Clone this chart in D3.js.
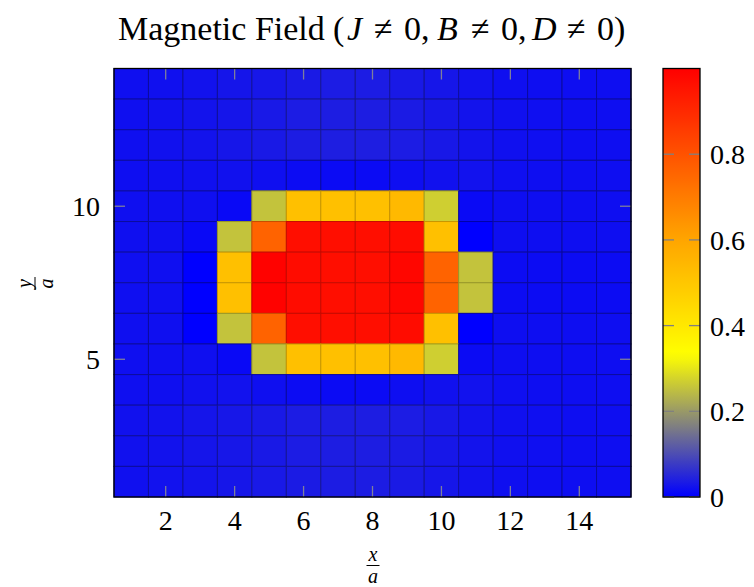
<!DOCTYPE html>
<html>
<head>
<meta charset="utf-8">
<script src="https://cdn.jsdelivr.net/npm/d3@7"></script>
<style>
  html, body { margin: 0; padding: 0; background: #fff; }
  svg { display: block; }
  text { font-family: "Liberation Serif", "DejaVu Serif", serif; fill: #000; }
</style>
</head>
<body>
<svg id="chart" width="754" height="587"></svg>
<script>
// Lattice sites along x and y (in units of a)
const xSites = [1, 2, 3, 4, 5, 6, 7, 8, 9, 10, 11, 12, 13, 14, 15];
const ySites = [14, 13, 12, 11, 10, 9, 8, 7, 6, 5, 4, 3, 2, 1];

// Magnetic field magnitude per site, one row per y value (top row y = 14)
const fieldRows = [
  [0.020, 0.021, 0.024, 0.027, 0.030, 0.034, 0.036, 0.036, 0.033, 0.029, 0.024, 0.020, 0.018, 0.018, 0.018],
  [0.020, 0.022, 0.025, 0.028, 0.032, 0.036, 0.038, 0.038, 0.035, 0.030, 0.025, 0.021, 0.019, 0.018, 0.018],
  [0.020, 0.022, 0.025, 0.029, 0.033, 0.037, 0.039, 0.039, 0.036, 0.031, 0.025, 0.021, 0.019, 0.018, 0.018],
  [0.018, 0.020, 0.021, 0.022, 0.020, 0.016, 0.015, 0.015, 0.018, 0.022, 0.023, 0.019, 0.018, 0.018, 0.018],
  [0.020, 0.020, 0.020, 0.012, 0.255, 0.520, 0.520, 0.520, 0.540, 0.270, 0.013, 0.018, 0.018, 0.018, 0.018],
  [0.020, 0.020, 0.012, 0.255, 0.760, 0.965, 0.965, 0.965, 0.970, 0.520, 0.000, 0.018, 0.018, 0.018, 0.018],
  [0.019, 0.019, 0.000, 0.520, 0.995, 0.970, 0.965, 0.965, 0.985, 0.760, 0.255, 0.016, 0.016, 0.016, 0.016],
  [0.019, 0.019, 0.000, 0.520, 0.995, 0.970, 0.965, 0.965, 0.985, 0.760, 0.255, 0.016, 0.016, 0.016, 0.016],
  [0.020, 0.020, 0.000, 0.255, 0.760, 0.965, 0.965, 0.965, 0.970, 0.520, 0.000, 0.018, 0.018, 0.018, 0.018],
  [0.020, 0.020, 0.020, 0.012, 0.255, 0.520, 0.520, 0.520, 0.540, 0.270, 0.015, 0.018, 0.018, 0.018, 0.018],
  [0.020, 0.020, 0.022, 0.023, 0.020, 0.016, 0.015, 0.015, 0.018, 0.022, 0.023, 0.019, 0.018, 0.018, 0.018],
  [0.022, 0.024, 0.027, 0.030, 0.033, 0.036, 0.038, 0.038, 0.036, 0.031, 0.025, 0.021, 0.019, 0.018, 0.018],
  [0.022, 0.024, 0.027, 0.030, 0.033, 0.036, 0.038, 0.038, 0.035, 0.030, 0.025, 0.021, 0.019, 0.018, 0.018],
  [0.021, 0.023, 0.026, 0.029, 0.032, 0.035, 0.037, 0.037, 0.034, 0.029, 0.024, 0.020, 0.018, 0.018, 0.018]
];

// Tick values
const xTicks = [2, 4, 6, 8, 10, 12, 14];
const yTicks = [5, 10];
const colorTicks = [0, 0.2, 0.4, 0.6, 0.8];

// Colormap: blue -> gray -> yellow -> orange -> red
const cmapStops = [0, 0.167, 0.333, 0.6, 1];
const cmapColors = ["#0000ff", "#808080", "#ffff00", "#ffa500", "#ff0000"];

const svg = d3.select("#chart");
const plot = { left: 114, right: 631, top: 68.5, bottom: 497 };
const bar = { left: 663, right: 700 };

const x = d3.scaleLinear().domain([0.5, 15.5]).range([plot.left, plot.right]);
const y = d3.scaleLinear().domain([0.5, 14.5]).range([plot.bottom, plot.top]);
const color = d3.scaleLinear().domain(cmapStops).range(cmapColors)
  .interpolate(d3.interpolateRgb).clamp(true);
const cbar = d3.scaleLinear().domain([0, 1]).range([plot.bottom, plot.top]);

// Flatten rows into cells
const cells = [];
fieldRows.forEach((row, i) => row.forEach((v, j) => cells.push({ x: xSites[j], y: ySites[i], v })));

// Faceted shading: each cell edge is a darker shade of its fill
function facetEdge(c) {
  const k = d3.rgb(c);
  return d3.rgb(k.r * 0.78, k.g * 0.78, k.b * 0.66).toString();
}

svg.append("g")
  .selectAll("rect")
  .data(cells)
  .join("rect")
  .attr("x", d => x(d.x - 0.5))
  .attr("y", d => y(d.y + 0.5))
  .attr("width", d => x(d.x + 0.5) - x(d.x - 0.5))
  .attr("height", d => y(d.y - 0.5) - y(d.y + 0.5))
  .attr("fill", d => color(d.v))
  .attr("stroke", d => facetEdge(color(d.v)))
  .attr("stroke-width", 1);

// Inner tick marks on all four sides
const tickLen = 11;
const tickColor = "#7f7f9a";
const ticks = svg.append("g").attr("stroke", tickColor).attr("stroke-width", 1.3);
xTicks.forEach(t => {
  ticks.append("line").attr("x1", x(t)).attr("x2", x(t)).attr("y1", plot.bottom).attr("y2", plot.bottom - tickLen);
  ticks.append("line").attr("x1", x(t)).attr("x2", x(t)).attr("y1", plot.top).attr("y2", plot.top + tickLen);
});
yTicks.forEach(t => {
  ticks.append("line").attr("x1", plot.left).attr("x2", plot.left + tickLen).attr("y1", y(t)).attr("y2", y(t));
  ticks.append("line").attr("x1", plot.right).attr("x2", plot.right - tickLen).attr("y1", y(t)).attr("y2", y(t));
});

// Frame
svg.append("rect")
  .attr("x", plot.left).attr("y", plot.top)
  .attr("width", plot.right - plot.left).attr("height", plot.bottom - plot.top)
  .attr("fill", "none").attr("stroke", "#000").attr("stroke-width", 1.3);

// Tick labels
const labelSize = 28;
svg.append("g").selectAll("text").data(xTicks).join("text")
  .attr("x", d => x(d)).attr("y", 530)
  .attr("text-anchor", "middle").attr("font-size", labelSize)
  .text(d => d);
svg.append("g").selectAll("text").data(yTicks).join("text")
  .attr("x", 100).attr("y", d => y(d) + 10)
  .attr("text-anchor", "end").attr("font-size", labelSize)
  .text(d => d);

// Axis labels as stacked fractions
function fraction(g, num, den, size) {
  g.append("text").attr("x", 0).attr("y", -4.5).attr("text-anchor", "middle")
    .attr("font-size", size).attr("font-style", "italic").text(num);
  g.append("line").attr("x1", -6.5).attr("x2", 6.5).attr("y1", 0).attr("y2", 0)
    .attr("stroke", "#000").attr("stroke-width", 1);
  g.append("text").attr("x", 0).attr("y", 17.5).attr("text-anchor", "middle")
    .attr("font-size", size).attr("font-style", "italic").text(den);
}
fraction(svg.append("g").attr("transform", "translate(373,565.5)"), "x", "a", 20);
fraction(svg.append("g").attr("transform", "translate(35,283.5) rotate(-90)"), "y", "a", 20);

// Title, set piece by piece with math-style spacing around the relations
const titlePieces = [
  { t: "Magnetic Field", x: 118 },
  { t: "(", x: 333 },
  { t: "J", x: 347, it: true },
  { t: "\u2260", x: 374 },
  { t: "0,", x: 404 },
  { t: "B", x: 437, it: true },
  { t: "\u2260", x: 471 },
  { t: "0,", x: 501 },
  { t: "D", x: 532, it: true },
  { t: "\u2260", x: 567 },
  { t: "0)", x: 597 }
];
const title = svg.append("text").attr("y", 40).attr("font-size", 34);
titlePieces.forEach(p => {
  title.append("tspan").attr("x", p.x)
    .attr("font-style", p.it ? "italic" : null)
    .text(p.t);
});

// Colorbar
const defs = svg.append("defs");
const grad = defs.append("linearGradient").attr("id", "cmap")
  .attr("x1", 0).attr("y1", 1).attr("x2", 0).attr("y2", 0);
d3.range(0, 1.0001, 0.02).forEach(t => {
  grad.append("stop").attr("offset", t).attr("stop-color", color(t));
});
svg.append("rect")
  .attr("x", bar.left).attr("y", cbar(1))
  .attr("width", bar.right - bar.left).attr("height", cbar(0) - cbar(1))
  .attr("fill", "url(#cmap)");

const cticks = svg.append("g").attr("stroke", "#808080").attr("stroke-width", 1.3);
colorTicks.forEach(t => {
  cticks.append("line").attr("x1", bar.left).attr("x2", bar.left + tickLen).attr("y1", cbar(t)).attr("y2", cbar(t));
  cticks.append("line").attr("x1", bar.right).attr("x2", bar.right - tickLen).attr("y1", cbar(t)).attr("y2", cbar(t));
});
svg.append("rect")
  .attr("x", bar.left).attr("y", cbar(1))
  .attr("width", bar.right - bar.left).attr("height", cbar(0) - cbar(1))
  .attr("fill", "none").attr("stroke", "#000").attr("stroke-width", 1.3);

svg.append("g").selectAll("text").data(colorTicks).join("text")
  .attr("x", 710).attr("y", d => cbar(d) + 10)
  .attr("font-size", labelSize)
  .text(d => d === 0 ? "0" : d3.format(".1f")(d));
</script>
</body>
</html>
